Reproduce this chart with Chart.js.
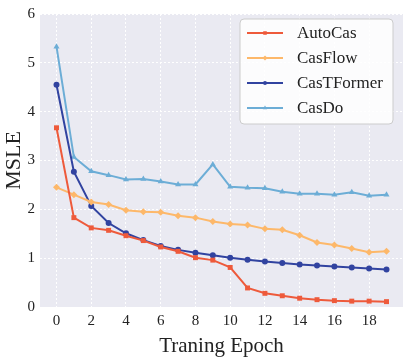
<!DOCTYPE html>
<html>
<head>
<meta charset="utf-8">
<script src="https://cdn.jsdelivr.net/npm/chart.js@4"></script>
<style>
  html, body { margin: 0; padding: 0; background: #fff; }
  #wrap { width: 407px; height: 361px; position: relative; }
</style>
</head>
<body>
<div id="wrap"><canvas id="lossChart"></canvas></div>
<script>
const epochs = [0, 1, 2, 3, 4, 5, 6, 7, 8, 9, 10, 11, 12, 13, 14, 15, 16, 17, 18, 19];
const xTicks = [0, 2, 4, 6, 8, 10, 12, 14, 16, 18];

const autoCas    = [3.67, 1.83, 1.62, 1.57, 1.46, 1.36, 1.23, 1.14, 1.01, 0.96, 0.81, 0.39, 0.28, 0.23, 0.18, 0.15, 0.13, 0.12, 0.12, 0.11];
const casFlow    = [2.45, 2.30, 2.15, 2.10, 1.98, 1.95, 1.94, 1.87, 1.83, 1.75, 1.70, 1.68, 1.60, 1.58, 1.47, 1.32, 1.27, 1.20, 1.12, 1.14];
const casTFormer = [4.55, 2.77, 2.07, 1.72, 1.51, 1.37, 1.25, 1.17, 1.11, 1.06, 1.01, 0.97, 0.93, 0.90, 0.87, 0.85, 0.83, 0.81, 0.79, 0.77];
const casDo      = [5.33, 3.07, 2.78, 2.70, 2.61, 2.62, 2.57, 2.51, 2.51, 2.92, 2.46, 2.44, 2.43, 2.36, 2.32, 2.32, 2.30, 2.35, 2.28, 2.30];

const serif = '"Liberation Serif", "DejaVu Serif", serif';

function series(label, data, color, style, radius) {
    return {
        label: label,
        data: data,
        borderColor: color,
        backgroundColor: color,
        borderWidth: 2,
        pointStyle: style,
        pointRadius: radius,
        pointBorderWidth: 0,
        tension: 0
    };
}

// grey seaborn-like plot background
const plotBg = {
    id: 'plotBg',
    beforeDraw(chart) {
        const { ctx, chartArea: a } = chart;
        ctx.save();
        ctx.fillStyle = '#eaeaf2';
        ctx.fillRect(a.left, a.top, a.right - a.left, a.bottom - a.top);
        ctx.restore();
    }
};

// legend drawn inside the plot, upper right
const innerLegend = {
    id: 'innerLegend',
    afterDraw(chart) {
        const ctx = chart.ctx;
        const x = 240, y = 19, w = 153, h = 105;
        ctx.save();
        ctx.beginPath();
        ctx.roundRect(x, y, w, h, 4);
        ctx.fillStyle = 'rgba(255,255,255,0.85)';
        ctx.fill();
        ctx.strokeStyle = '#cccccc';
        ctx.lineWidth = 1;
        ctx.stroke();

        ctx.font = '17px ' + serif;
        ctx.textBaseline = 'middle';
        chart.data.datasets.forEach((ds, i) => {
            const cy = y + 14 + i * 25;
            ctx.strokeStyle = ds.borderColor;
            ctx.lineWidth = 2;
            ctx.beginPath();
            ctx.moveTo(x + 7, cy);
            ctx.lineTo(x + 43, cy);
            ctx.stroke();
            ctx.fillStyle = ds.backgroundColor;
            Chart.helpers.drawPoint(ctx, {
                pointStyle: ds.pointStyle,
                radius: ds.pointRadius - 1,
                rotation: 0,
                borderWidth: 0
            }, x + 25, cy);
            ctx.fillStyle = '#222';
            ctx.fillText(ds.label, x + 57, cy + 1);
        });
        ctx.restore();
    }
};

new Chart(document.getElementById('lossChart'), {
    type: 'line',
    data: {
        labels: epochs,
        datasets: [
            series('AutoCas', autoCas, '#ee5a3b', 'rect', 3.5),
            series('CasFlow', casFlow, '#fdb86a', 'rectRot', 3.5),
            series('CasTFormer', casTFormer, '#3143a0', 'circle', 3),
            series('CasDo', casDo, '#6cadd6', 'triangle', 3.5)
        ]
    },
    options: {
        responsive: true,
        maintainAspectRatio: false,
        animation: false,
        layout: { padding: { top: 10, right: 4, left: 0, bottom: 0 } },
        plugins: {
            legend: { display: false },
            tooltip: { enabled: false }
        },
        scales: {
            x: {
                type: 'linear',
                min: -0.95,
                max: 19.95,
                afterBuildTicks(scale) {
                    scale.ticks = xTicks.map(v => ({ value: v }));
                },
                afterFit(scale) { scale.height = 54; },
                grid: { color: '#ffffff', lineWidth: 1, drawTicks: false },
                border: { display: false, dash: [2, 2] },
                ticks: {
                    padding: 5,
                    color: '#222',
                    font: { family: serif, size: 15 },
                    maxRotation: 0,
                    autoSkip: false
                },
                title: {
                    display: true,
                    text: 'Traning Epoch',
                    color: '#222',
                    font: { family: serif, size: 21 },
                    padding: { top: 0, bottom: 2 }
                }
            },
            y: {
                min: 0,
                max: 6,
                afterFit(scale) { scale.width = 40; },
                grid: { color: '#ffffff', lineWidth: 1, drawTicks: false },
                border: { display: false, dash: [2, 2] },
                ticks: {
                    stepSize: 1,
                    padding: 5,
                    color: '#222',
                    font: { family: serif, size: 15 }
                },
                title: {
                    display: true,
                    text: 'MSLE',
                    color: '#222',
                    font: { family: serif, size: 22 },
                    padding: { top: 1, bottom: 0 }
                }
            }
        }
    },
    plugins: [plotBg, innerLegend]
});
</script>
</body>
</html>
